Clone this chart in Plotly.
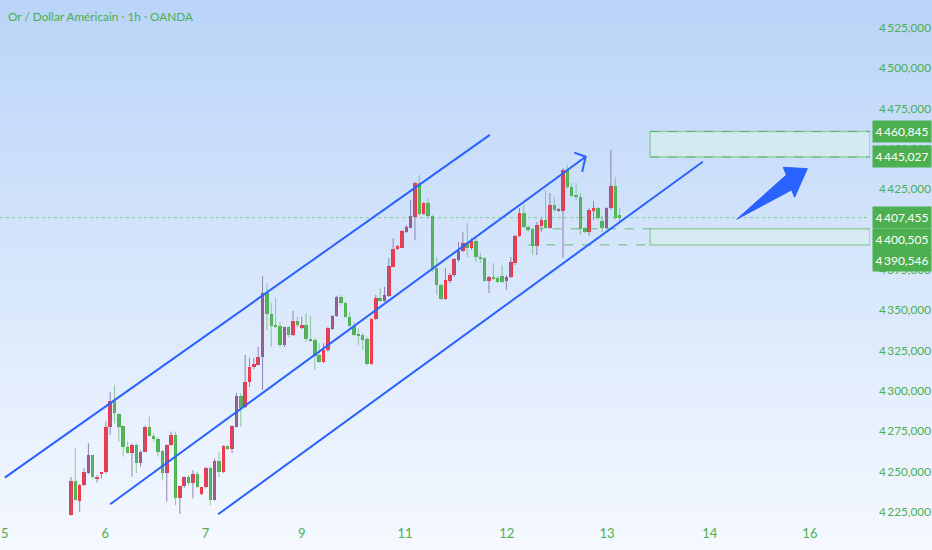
import plotly.graph_objects as go

# ---------------- data (XAU/USD 1h) ----------------
opens = [4223.1, 4244.2, 4232.0, 4241.7, 4249.4, 4260.3, 4245.9, 4248.6, 4249.6, 4277.5,
         4294.0, 4285.7, 4278.3, 4265.5, 4261.8, 4266.5, 4255.2, 4262.4, 4277.9, 4272.3,
         4270.2, 4262.8, 4249.4, 4266.5, 4272.7, 4233.5, 4241.1, 4246.9, 4242.8, 4248.6,
         4236.2, 4240.3, 4252.3, 4232.4, 4256.6, 4249.8, 4265.9, 4264.0, 4277.7, 4296.9,
         4290.1, 4305.6, 4314.9, 4316.1, 4321.1, 4360.7, 4347.7, 4340.9, 4340.3, 4328.5,
         4339.7, 4334.7, 4343.4, 4339.0, 4340.9, 4332.2, 4331.6, 4322.3, 4318.0, 4325.4,
         4338.4, 4346.5, 4358.3, 4354.5, 4345.9, 4340.3, 4335.3, 4334.7, 4332.2, 4316.7,
         4344.6, 4357.6, 4355.8, 4358.9, 4377.0, 4388.0, 4388.6, 4398.6, 4401.0, 4407.8,
         4428.9, 4409.7, 4416.5, 4408.5, 4376.2, 4365.7, 4357.0, 4368.2, 4371.9, 4381.2,
         4386.8, 4391.7, 4388.6, 4393.0, 4383.0, 4382.4, 4368.2, 4370.7, 4370.0, 4371.3,
         4368.2, 4370.7, 4379.3, 4396.1, 4410.3, 4401.6, 4400.4, 4389.9, 4402.3, 4406.0,
         4401.0, 4415.3, 4411.6, 4411.6, 4437.0, 4426.4, 4421.5, 4420.2, 4401.0, 4398.5,
         4411.6, 4413.4, 4405.4, 4401.0, 4413.4, 4427.1, 4409.0]
highs = [4246.7, 4264.9, 4242.4, 4252.1, 4267.6, 4260.5, 4247.9, 4250.0, 4281.0, 4299.6,
         4303.7, 4286.2, 4278.3, 4268.6, 4267.6, 4267.6, 4263.4, 4278.5, 4284.1, 4273.8,
         4271.7, 4263.4, 4266.8, 4274.8, 4274.8, 4241.5, 4247.2, 4247.9, 4251.0, 4250.0,
         4240.7, 4253.1, 4253.1, 4258.3, 4262.2, 4266.5, 4266.5, 4278.9, 4298.8, 4298.8,
         4322.3, 4320.4, 4320.4, 4327.3, 4371.3, 4366.9, 4354.5, 4357.6, 4342.8, 4339.9,
         4340.3, 4349.6, 4345.9, 4345.9, 4348.3, 4346.5, 4332.8, 4329.7, 4329.7, 4339.7,
         4347.1, 4358.9, 4359.5, 4355.1, 4349.0, 4342.8, 4339.0, 4336.0, 4333.5, 4345.2,
         4359.5, 4363.8, 4364.5, 4382.4, 4394.8, 4390.5, 4399.8, 4402.9, 4418.4, 4429.5,
         4433.9, 4417.1, 4419.6, 4409.1, 4383.0, 4366.9, 4376.2, 4373.1, 4382.4, 4392.4,
         4398.5, 4404.1, 4394.8, 4394.8, 4385.5, 4383.0, 4371.3, 4379.3, 4371.3, 4378.1,
         4371.9, 4383.0, 4396.7, 4413.4, 4415.3, 4402.9, 4401.0, 4404.7, 4407.2, 4424.6,
         4422.7, 4420.2, 4413.4, 4438.2, 4440.1, 4428.9, 4428.9, 4422.7, 4401.6, 4413.4,
         4417.8, 4414.0, 4408.5, 4414.0, 4449.4, 4432.6, 4413.4]
lows = [4222.8, 4232.0, 4225.2, 4241.0, 4248.5, 4245.9, 4243.2, 4245.9, 4249.0, 4272.7,
        4280.0, 4268.6, 4259.3, 4261.4, 4246.9, 4249.0, 4253.1, 4262.0, 4271.7, 4268.6,
        4259.3, 4244.8, 4231.4, 4266.0, 4229.3, 4223.8, 4239.7, 4241.7, 4233.5, 4239.7,
        4235.5, 4239.7, 4229.3, 4232.0, 4246.7, 4249.2, 4263.4, 4261.6, 4277.4, 4277.7,
        4289.5, 4302.5, 4313.6, 4316.0, 4300.6, 4337.8, 4327.3, 4339.0, 4327.3, 4327.3,
        4333.5, 4334.1, 4339.7, 4338.4, 4330.4, 4330.4, 4313.0, 4317.4, 4317.4, 4324.2,
        4337.8, 4345.9, 4353.3, 4345.5, 4339.7, 4334.1, 4328.5, 4325.4, 4316.1, 4316.4,
        4344.0, 4355.2, 4355.2, 4358.3, 4376.8, 4387.4, 4388.4, 4397.9, 4400.8, 4393.6,
        4409.1, 4409.1, 4407.2, 4373.8, 4359.5, 4356.4, 4356.4, 4366.9, 4370.7, 4380.0,
        4386.1, 4383.0, 4387.4, 4380.0, 4379.3, 4367.6, 4360.7, 4368.8, 4367.0, 4367.0,
        4362.6, 4370.0, 4378.1, 4395.4, 4401.0, 4398.5, 4384.3, 4384.3, 4398.5, 4400.4,
        4400.4, 4411.0, 4411.0, 4382.4, 4425.2, 4420.2, 4418.4, 4396.7, 4397.9, 4396.1,
        4406.0, 4406.0, 4398.5, 4400.4, 4412.2, 4406.0, 4404.7]
closes = [4244.2, 4232.4, 4241.7, 4250.0, 4260.3, 4246.5, 4246.9, 4249.6, 4277.9, 4294.0,
          4286.2, 4277.9, 4265.5, 4261.8, 4266.5, 4255.6, 4262.4, 4277.9, 4272.3, 4270.1,
          4262.4, 4249.4, 4266.5, 4272.7, 4233.5, 4241.1, 4246.9, 4243.2, 4248.6, 4240.3,
          4240.3, 4252.3, 4232.4, 4256.8, 4249.8, 4265.9, 4264.0, 4278.3, 4296.9, 4289.5,
          4305.6, 4314.9, 4316.7, 4321.1, 4360.7, 4347.7, 4340.3, 4339.7, 4328.5, 4339.7,
          4334.7, 4343.4, 4340.9, 4340.9, 4332.2, 4331.0, 4321.7, 4318.2, 4325.4, 4339.0,
          4346.5, 4358.3, 4354.5, 4345.9, 4340.3, 4334.7, 4334.1, 4331.6, 4316.7, 4344.6,
          4357.6, 4355.8, 4359.5, 4377.5, 4388.0, 4389.9, 4399.2, 4401.6, 4408.5, 4428.9,
          4409.7, 4416.5, 4408.5, 4375.0, 4365.7, 4357.0, 4368.8, 4371.9, 4381.8, 4386.8,
          4391.7, 4388.6, 4393.0, 4383.0, 4382.4, 4368.2, 4370.7, 4370.0, 4367.6, 4367.6,
          4370.7, 4380.0, 4396.1, 4410.3, 4401.6, 4399.8, 4389.9, 4402.9, 4406.0, 4401.0,
          4415.3, 4412.2, 4412.8, 4437.0, 4426.4, 4420.9, 4420.2, 4400.4, 4398.5, 4412.2,
          4413.4, 4407.2, 4401.0, 4413.4, 4427.1, 4407.2, 4407.455]

day_tick_pos = [-15.2, 7.9, 30.9, 53.0, 76.7, 100.1, 123.1, 146.7, 169.7]
day_tick_labels = ["5", "6", "7", "9", "11", "12", "13", "14", "16"]

price_ticks = [4225, 4250, 4275, 4300, 4325, 4350, 4375, 4425, 4450, 4475, 4500, 4525]

last_price = 4407.455
zone_high = [4445.027, 4460.845]
zone_low = [4390.546, 4400.505]
label_prices = [4460.845, 4445.027, 4407.455, 4400.505, 4390.546]

# drawings anchored at (bar index, price)
channel_upper = [(-15.2, 4246.3), (96.2, 4458.7)]
channel_mid = [(9.0, 4229.8), (118.2, 4445.2)]
channel_mid_head = [(115.6, 4447.7), (118.2, 4445.2), (117.4, 4435.9)]
channel_lower = [(33.8, 4223.6), (145.1, 4442.1)]
big_arrow = [(152.9, 4406.4), (164.3, 4433.9), (163.6, 4438.6), (169.1, 4437.8),
             (166.2, 4420.1), (165.5, 4424.6)]
zone_start = 133.0
low_ray_start = [105.0, 106.5]

X_MIN, X_MAX = -16.3, 183.5
Y_MIN, Y_MAX = 4221.3, 4542.3

UP = "#F23645"
DOWN = "#4CAF50"
UP_WICK = "rgba(130,110,170,0.85)"
DOWN_WICK = "rgba(110,185,120,0.75)"
BLUE = "#2962FF"
TXT_GREEN = "#4CAF50"
FONT = "Lato, Liberation Sans, sans-serif"

fig = go.Figure()

# wicks
for is_up, col in ((True, UP_WICK), (False, DOWN_WICK)):
    wx, wy = [], []
    for i, (o, h, l, c) in enumerate(zip(opens, highs, lows, closes)):
        if (c >= o) == is_up:
            wx += [i, i, None]
            wy += [l, h, None]
    fig.add_trace(go.Scatter(x=wx, y=wy, mode="lines", line=dict(color=col, width=1),
                             hoverinfo="skip"))

# bodies
bx, bbase, blen, bcol = [], [], [], []
for i, (o, c) in enumerate(zip(opens, closes)):
    bx.append(i)
    bbase.append(min(o, c))
    blen.append(max(abs(c - o), 0.6))
    bcol.append(UP if c >= o else DOWN)
fig.add_trace(go.Bar(x=bx, y=blen, base=bbase, width=0.8, marker=dict(color=bcol, line=dict(width=0)),
                     hoverinfo="skip"))

shapes = []
# background gradient (full image)
top = (185, 212, 248)
bot = (246, 249, 255)
n = 60
plot_h = 518.0
for k in range(n):
    p0 = 550.0 * k / n
    p1 = 550.0 * (k + 1) / n + 0.6
    t = (k + 0.5) / n
    col = tuple(int(round(top[j] + (bot[j] - top[j]) * t)) for j in range(3))
    shapes.append(dict(type="rect", xref="paper", yref="paper", x0=-0.01, x1=1.08,
                       y0=(plot_h - p1) / plot_h, y1=(plot_h - p0) / plot_h,
                       fillcolor="rgb(%d,%d,%d)" % col, line=dict(width=0), layer="below"))

# last price dotted line
shapes.append(dict(type="line", xref="x", yref="y", x0=X_MIN, x1=X_MAX, y0=last_price, y1=last_price,
                   line=dict(color="rgba(76,175,80,0.55)", width=1, dash="dot")))

# zones
for zone in (zone_high, zone_low):
    shapes.append(dict(type="rect", xref="x", yref="y", x0=zone_start, x1=X_MAX,
                       y0=zone[0], y1=zone[1], fillcolor="rgba(214,236,238,0.85)",
                       line=dict(color="rgba(76,175,80,0.45)", width=1.5)))
for pr in zone_high:
    shapes.append(dict(type="line", xref="x", yref="y", x0=zone_start, x1=X_MAX, y0=pr, y1=pr,
                       line=dict(color="rgba(76,175,80,0.8)", width=1, dash="dash")))
for pr, xs in zip(zone_low, low_ray_start):
    shapes.append(dict(type="line", xref="x", yref="y", x0=xs, x1=zone_start, y0=pr, y1=pr,
                       line=dict(color="rgba(76,175,80,0.8)", width=1, dash="dash")))

# channel lines
for seg in (channel_upper, channel_mid, channel_lower):
    shapes.append(dict(type="line", xref="x", yref="y", x0=seg[0][0], y0=seg[0][1],
                       x1=seg[1][0], y1=seg[1][1], line=dict(color=BLUE, width=2)))
head_path = "M %f,%f L %f,%f L %f,%f" % (channel_mid_head[0] + channel_mid_head[1] + channel_mid_head[2])
shapes.append(dict(type="path", xref="x", yref="y", path=head_path, line=dict(color=BLUE, width=2)))

arrow_path = "M " + " L ".join("%f,%f" % p for p in big_arrow) + " Z"
shapes.append(dict(type="path", xref="x", yref="y", path=arrow_path, fillcolor=BLUE,
                   line=dict(color=BLUE, width=1)))

# price labels on the axis (stacked so they don't overlap)
annotations = []
step = 13.4
prev = None
for pr in label_prices:
    pos = pr if prev is None else min(pr, prev - step)
    prev = pos
    txt = "{:,.3f}".format(pr).replace(",", "\u2009").replace(".", ",")
    annotations.append(dict(xref="paper", yref="y", x=1.0023, y=pos, xanchor="left", yanchor="middle",
                            text=txt, showarrow=False, bgcolor="#4CAF50", width=55, height=18,
                            borderpad=1.5, font=dict(color="white", size=12, family=FONT)))

annotations.append(dict(xref="paper", yref="paper", x=6 / 870, y=(518 - 16) / 518, xanchor="left",
                        yanchor="middle", showarrow=False, text="Or / Dollar Américain · 1h · OANDA",
                        font=dict(color=TXT_GREEN, size=11.8, family=FONT)))

tick_text = ["{:,.3f}".format(v).replace(",", "\u2009").replace(".", ",") for v in price_ticks]

fig.update_layout(
    template="none",
    width=932, height=550,
    margin=dict(l=0, r=62, t=0, b=32),
    paper_bgcolor="#eef4fd", plot_bgcolor="rgba(0,0,0,0)",
    showlegend=False, barmode="overlay", bargap=0,
    shapes=shapes, annotations=annotations,
    xaxis=dict(range=[X_MIN, X_MAX], tickvals=day_tick_pos, ticktext=day_tick_labels,
               showgrid=False, zeroline=False, showline=False, ticks="", automargin=False,
               tickfont=dict(color=TXT_GREEN, size=13, family=FONT), ticklabelstandoff=6),
    yaxis=dict(range=[Y_MIN, Y_MAX], side="right", tickvals=price_ticks, ticktext=tick_text,
               showgrid=False, zeroline=False, showline=False, ticks="", automargin=False,
               tickfont=dict(color=TXT_GREEN, size=11.8, family=FONT), ticklabelstandoff=8),
)

fig.write_html("out.html", config={"displayModeBar": False},
               post_script="document.body.style.margin='0px';")
